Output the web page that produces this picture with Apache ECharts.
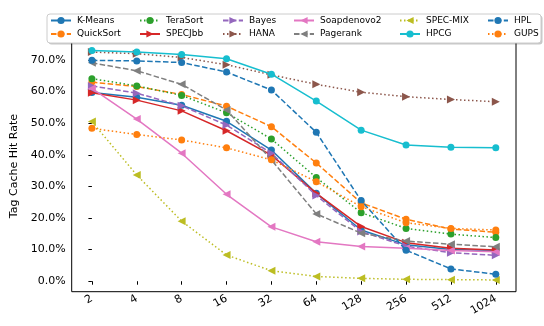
<!DOCTYPE html>
<html><head><meta charset="utf-8">
<script src="https://cdn.jsdelivr.net/npm/echarts@6/dist/echarts.min.js"></script>
<style>html,body{margin:0;padding:0;background:#fff}#c{width:544px;height:326px}</style>
</head><body><div id="c"></div>
<script>
const categories = ['2','4','8','16','32','64','128','256','512','1024'];
const yTicks = [0,10,20,30,40,50,60,70];
const kmeans    = [59.7, 58.2, 55.7, 50.6, 41.5, 27.8, 16.2, 11.5, 10.0, 9.7];
const quicksort = [63.0, 61.6, 59.1, 55.4, 48.9, 37.4, 24.8, 19.6, 16.5, 15.5];
const terasort  = [64.1, 61.8, 58.8, 53.3, 45.0, 32.8, 21.7, 16.7, 14.9, 13.8];
const specjbb   = [59.6, 57.3, 53.9, 47.6, 39.9, 27.8, 17.3, 12.2, 10.4, 9.9];
const bayes     = [61.8, 59.5, 55.5, 49.4, 40.5, 27.1, 15.7, 11.1, 9.0, 8.2];
const hana      = [72.5, 72.0, 70.8, 68.5, 65.3, 62.3, 59.8, 58.4, 57.5, 56.8];
const soap      = [61.0, 51.3, 40.5, 27.5, 17.2, 12.5, 11.0, 10.4, 9.7, 9.3];
const pagerank  = [69.1, 66.6, 62.3, 54.2, 38.4, 21.3, 15.2, 12.7, 11.7, 10.9];
const specmix   = [50.5, 33.6, 19.0, 8.3, 3.3, 1.5, 0.9, 0.6, 0.5, 0.4];
const hpcg      = [73.0, 72.5, 71.7, 70.4, 65.5, 57.0, 47.8, 43.1, 42.4, 42.2];
const hpl       = [69.9, 69.7, 69.2, 66.2, 60.5, 47.1, 25.5, 9.8, 3.9, 2.2];
const gups      = [48.4, 46.4, 44.7, 42.2, 38.4, 31.5, 23.6, 18.5, 16.7, 16.2];

const RIGHT = 'path://M0,0L10,5L0,10Z';
const LEFT = 'path://M10,0L0,5L10,10Z';
const SOLID = 'solid', DASH = [5.5, 2.4], DOT = [1.5, 2.5];
const defs = [
  ['K-Means', kmeans, '#1f77b4', 'circle', SOLID],
  ['QuickSort', quicksort, '#ff7f0e', 'circle', DASH],
  ['TeraSort', terasort, '#2ca02c', 'circle', DOT],
  ['SPECJbb', specjbb, '#d62728', RIGHT, SOLID],
  ['Bayes', bayes, '#9467bd', RIGHT, DASH],
  ['HANA', hana, '#8c564b', RIGHT, DOT],
  ['Soapdenovo2', soap, '#e377c2', LEFT, SOLID],
  ['Pagerank', pagerank, '#7f7f7f', LEFT, DASH],
  ['SPEC-MIX', specmix, '#bcbd22', LEFT, DOT],
  ['HPCG', hpcg, '#17becf', 'circle', SOLID],
  ['HPL', hpl, '#1f77b4', 'circle', DASH],
  ['GUPS', gups, '#ff7f0e', 'circle', DOT]
];
const series = defs.map((d, k) => ({
  name: d[0], type: 'line',
  data: d[1].map((v, i) => [i, v]),
  symbol: d[3], symbolSize: d[3] === 'circle' ? 7 : 8,
  showSymbol: true,
  itemStyle: {color: d[2]},
  lineStyle: {color: d[2], width: 1.5, type: d[4]},
  z: 2 + k * 0.01,
  animation: false
}));
const legendCols = [
  [50, ['K-Means','QuickSort']],
  [139, ['TeraSort','SPECJbb']],
  [222, ['Bayes','HANA']],
  [293, ['Soapdenovo2','Pagerank']],
  [399, ['SPEC-MIX','HPCG']],
  [487, ['HPL','GUPS']]
];
const legends = legendCols.map(c => ({
  orient: 'vertical', left: c[0], top: 16, padding: 0,
  itemWidth: 20, itemHeight: 9, itemGap: 4.5,
  selectedMode: false, z: 10,
  data: c[1],
  textStyle: {fontFamily: 'DejaVu Sans', fontSize: 9, color: '#000', lineHeight: 9, padding: [0,0,0,1]}
}));
const chart = echarts.init(document.getElementById('c'), null, {renderer: 'canvas'});
chart.setOption({
  animation: false,
  backgroundColor: '#fff',
  grid: {left: 71.7, right: 28, top: 40.4, bottom: 34.3, show: true, borderColor: '#000', borderWidth: 1, backgroundColor: 'transparent'},
  graphic: [
    {type: 'rect', shape: {x: 48.5, y: 15.5, width: 494, height: 29, r: 3}, style: {fill: 'rgba(0,0,0,0.22)'}, z: 8},
    {type: 'rect', shape: {x: 47, y: 14, width: 494, height: 29, r: 3}, style: {fill: '#fff', stroke: '#ccc', lineWidth: 1}, z: 9}
  ],
  legend: legends,
  xAxis: {
    type: 'value', min: -0.45, max: 9.45,
    axisLine: {show: false},
    splitLine: {show: false},
    axisTick: {show: true, length: 3.5, lineStyle: {color: '#000', width: 1}, customValues: categories.map((c, i) => i)},
    axisLabel: {
      customValues: categories.map((c, i) => i),
      formatter: v => categories[Math.round(v)],
      rotate: 30, margin: 6,
      fontFamily: 'DejaVu Sans', fontSize: 11, color: '#000'
    }
  },
  yAxis: {
    type: 'value', min: -3.32, max: 76.2,
    name: 'Tag Cache Hit Rate', nameLocation: 'middle', nameGap: 51,
    nameTextStyle: {fontFamily: 'DejaVu Sans', fontSize: 11, color: '#000'},
    axisLine: {show: false},
    splitLine: {show: false},
    axisTick: {show: true, length: 3.5, lineStyle: {color: '#000', width: 1}, customValues: yTicks},
    axisLabel: {
      customValues: yTicks,
      formatter: v => v.toFixed(1) + '%',
      margin: 6,
      fontFamily: 'DejaVu Sans', fontSize: 11, color: '#000'
    }
  },
  series: series
});
</script></body></html>
